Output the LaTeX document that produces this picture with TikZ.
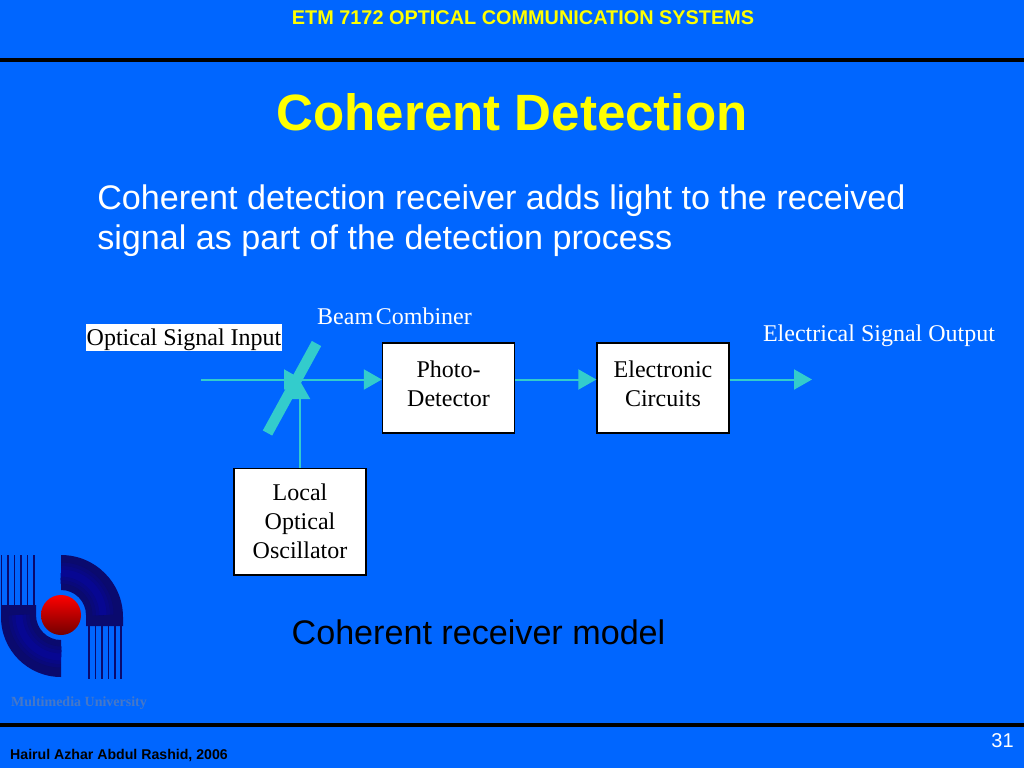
\documentclass[tikz,border=0pt]{standalone}
\usepackage{fontspec}
\setmainfont{Liberation Serif}
\newfontfamily\arialfont{Liberation Sans}
\usetikzlibrary{arrows.meta,positioning}
\definecolor{slidecolor}{RGB}{0, 102, 255}
\definecolor{linkcolor}{RGB}{51, 204, 204}
\definecolor{titlecolor}{RGB}{255, 255, 0}
\definecolor{logocolor}{RGB}{10, 10, 110}
\definecolor{unicolor}{RGB}{70, 120, 200}
\newcommand{\fsize}[1]{\fontsize{#1}{#1}\selectfont}
\begin{document}
\begin{tikzpicture}[
    x=0.75pt, y=-0.75pt,
    block/.style={draw, fill=white, line width=1pt, align=center, font=\fontsize{18}{21.7}\selectfont, inner sep=0pt},
    signal/.style={draw=linkcolor, line width=1.5pt, -{Triangle[length=13.5pt, width=15pt, fill=linkcolor]}},
    caption/.style={font=\fsize{18}, text depth=0pt, inner sep=0pt},
    rule/.style={line width=3pt},
]
    % Background
    \fill[slidecolor] (0, 0) rectangle (1024, 768);
    \useasboundingbox (0, 0) rectangle (1024, 768);
    \draw[rule] (0, 59.5) -- (1024, 59.5);
    \draw[rule] (0, 724.5) -- (1024, 724.5);

    % Heading
    \node[font=\arialfont\bfseries\fsize{14.9}, text=titlecolor] (header) at (523, 18) {ETM 7172 OPTICAL COMMUNICATION SYSTEMS};
    \node[font=\arialfont\bfseries\fsize{38.3}, text=titlecolor] (title) at (512, 112) {Coherent Detection};
    \node[anchor=north west, align=left, inner sep=0pt, text=white, font=\arialfont\fontsize{25.6}{30.3}\selectfont] (intro) at (97, 184.5) {Coherent detection receiver adds light to the received\\signal as part of the detection process};

    % Blocks
    \node[block, text depth=7pt, minimum width=99pt, minimum height=67.5pt] (detector) at (448.5, 388) {Photo-\\Detector};
    \node[block, text depth=7pt, minimum width=99pt, minimum height=67.5pt] (circuits) at (663, 388) {Electronic\\Circuits};
    \node[block, minimum width=99pt, minimum height=80pt] (oscillator) at (300, 521.5) {Local\\Optical\\Oscillator};

    % Labels
    \node[caption, fill=white, minimum width=147pt, minimum height=20.5pt] (input) at (184, 337.5) {Optical Signal Input};
    \node[caption, text=white] (combiner) at (394.5, 316) {Beam\hspace{2pt}Combiner};
    \node[caption, text=white] (output) at (879, 333) {Electrical Signal Output};
    \node[font=\arialfont\fsize{25.6}] (model) at (478.5, 632) {Coherent receiver model};

    % Connectors
    \coordinate (inputend) at (201, 379.5);
    \coordinate (mixer) at (302, 379.5);
    \coordinate (mixerup) at (300, 381);
    \coordinate (outputend) at (812, 379.5);
    \coordinate (barup) at (316.5, 343.5);
    \coordinate (bardown) at (267.5, 433);
    \draw[signal] (inputend) -- (mixer);
    \draw[signal] (oscillator.north -| mixerup) -- (mixerup);
    \draw[signal] (mixer) -- (detector.west |- mixer);
    \draw[signal] (detector.east |- mixer) -- (circuits.west |- mixer);
    \draw[signal] (circuits.east |- mixer) -- (outputend);
    \draw[linkcolor, line width=8pt] (barup) -- (bardown);

    % Logo
    \foreach \x in {1.5, 8, 14.5, 21, 27.5, 34} {
        \draw[logocolor, line width=1.1pt] (\x, 555) -- (\x, 605);
    }
    \foreach \x in {89, 95.5, 102, 108.5, 115, 121} {
        \draw[logocolor, line width=1.1pt] (\x, 626) -- (\x, 679);
    }
    \fill[logocolor] (61, 555) arc[start angle=90, end angle=0, radius=46.5pt] -- (123, 626) -- (86, 626) -- (86, 615) arc[start angle=0, end angle=90, radius=18.75pt] -- cycle;
    \fill[logocolor] (61, 677) arc[start angle=-90, end angle=-180, radius=45pt] -- (1, 605) -- (36, 605) -- (36, 615) arc[start angle=180, end angle=270, radius=18.75pt] -- cycle;
    \foreach \r/\w/\m in {42/21/8, 42/14/16, 42/7/25} {
        \draw[blue!\m!logocolor, line width=\w*0.75pt] (61, 615-\r) arc[start angle=90, end angle=0, radius=\r*0.75pt];
        \draw[blue!\m!logocolor, line width=\w*0.75pt] (61, 615+\r) arc[start angle=-90, end angle=-180, radius=\r*0.75pt];
    }
    \shade[top color=red, bottom color=red!45!black] (61, 615) circle[radius=15pt];
    \node[font=\bfseries\fsize{10.5}, text=unicolor] (university) at (79, 703.5) {Multimedia University};

    % Footer
    \node[font=\arialfont\bfseries\fsize{10.6}] (author) at (119, 755) {Hairul Azhar Abdul Rashid, 2006};
    \node[font=\arialfont\fsize{15}, text=white] (page) at (1002.5, 741) {31};
\end{tikzpicture}
\end{document}
